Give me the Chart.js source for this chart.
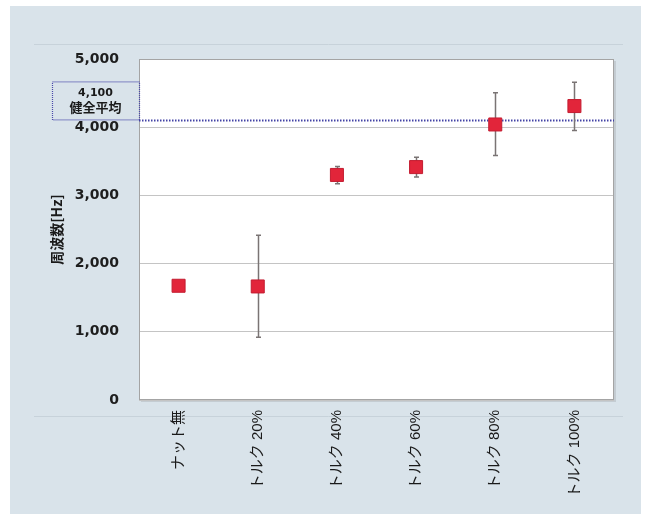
<!DOCTYPE html>
<html>
<head>
<meta charset="utf-8">
<script src="https://cdn.jsdelivr.net/npm/chart.js@4.4.0/dist/chart.umd.min.js"></script>
<style>
  html, body { margin: 0; padding: 0; background: #fff; }
  #wrap { width: 652px; height: 514px; }
</style>
</head>
<body>
<div id="wrap"><canvas id="c" width="652" height="514"></canvas></div>
<script>
// Natural frequency per bolt-tightening condition
const categories = ['ナット無', 'トルク 20%', 'トルク 40%', 'トルク 60%', 'トルク 80%', 'トルク 100%'];
const meanHz     = [1675, 1665, 3300, 3415, 4040, 4310];
const errLowHz   = [null,  920, 3170, 3270, 3585, 3950];
const errHighHz  = [null, 2415, 3425, 3560, 4505, 4660];
const yTicks     = [0, 1000, 2000, 3000, 4000, 5000];
const healthyAvgHz = 4100;
const healthyAvgLines = ['4,100', '健全平均'];

const AVG_COLOR = '#4343a6';

const decor = {
  id: 'decor',
  beforeDraw(chart) {
    const { ctx, chartArea: a } = chart;
    ctx.save();
    ctx.fillStyle = '#ffffff';
    ctx.fillRect(0, 0, chart.width, chart.height);
    ctx.fillStyle = '#d9e3ea';
    ctx.fillRect(10, 6, 631, 508);
    // faint horizontal rules of the panel
    ctx.strokeStyle = '#c7d2da';
    ctx.lineWidth = 1;
    [44.5, 416.5].forEach(y => {
      ctx.beginPath(); ctx.moveTo(34, y); ctx.lineTo(623, y); ctx.stroke();
    });
    // plot area with a soft drop shadow
    ctx.fillStyle = '#c4ccd2';
    ctx.fillRect(a.left + 2, a.top + 2, a.right - a.left, a.bottom - a.top);
    ctx.fillStyle = '#ffffff';
    ctx.fillRect(a.left, a.top, a.right - a.left, a.bottom - a.top);
    ctx.restore();
  },
  beforeDatasetsDraw(chart) {
    const { ctx, chartArea: a, scales: { x, y } } = chart;
    ctx.save();
    // plot frame
    ctx.strokeStyle = '#a4a4a4';
    ctx.lineWidth = 1;
    ctx.strokeRect(Math.round(a.left) + 0.5, Math.round(a.top) + 0.5,
                   Math.round(a.right - a.left) - 1, Math.round(a.bottom - a.top) - 1);

    // healthy-average reference line and its label box
    const ya = y.getPixelForValue(healthyAvgHz);
    ctx.strokeStyle = AVG_COLOR;
    ctx.lineWidth = 2;
    ctx.setLineDash([1.5, 1.5]);
    ctx.beginPath(); ctx.moveTo(a.left, ya); ctx.lineTo(a.right, ya); ctx.stroke();

    const bx = 52, bw = a.left - bx, bh = 39;
    ctx.lineWidth = 1.2;
    ctx.strokeStyle = '#4a4aaa';
    ctx.setLineDash([1, 1]);
    ctx.strokeRect(bx + 0.5, ya - bh + 0.5, bw, bh - 1);
    ctx.setLineDash([]);
    ctx.fillStyle = '#1a1a1a';
    ctx.textAlign = 'center';
    ctx.textBaseline = 'middle';
    ctx.font = 'bold 11px "DejaVu Sans"';
    ctx.fillText(healthyAvgLines[0], bx + bw / 2, ya - 27);
    ctx.font = 'bold 13px "Noto Sans CJK JP"';
    ctx.fillText(healthyAvgLines[1], bx + bw / 2, ya - 13);

    // error bars
    ctx.strokeStyle = '#7a7474';
    ctx.lineWidth = 1.5;
    meanHz.forEach((m, i) => {
      if (errLowHz[i] == null) return;
      const px = Math.round(x.getPixelForValue(i)) + 0.5;
      const y0 = y.getPixelForValue(errLowHz[i]);
      const y1 = y.getPixelForValue(errHighHz[i]);
      ctx.beginPath();
      ctx.moveTo(px, y0); ctx.lineTo(px, y1);
      ctx.moveTo(px - 2.5, y0); ctx.lineTo(px + 2.5, y0);
      ctx.moveTo(px - 2.5, y1); ctx.lineTo(px + 2.5, y1);
      ctx.stroke();
    });
    ctx.restore();
  }
};

new Chart(document.getElementById('c'), {
  type: 'line',
  data: {
    labels: categories,
    datasets: [{
      data: meanHz,
      showLine: false,
      pointStyle: 'rect',
      pointRadius: 9.2,
      pointHoverRadius: 9.2,
      pointBackgroundColor: '#e2253a',
      pointBorderColor: '#c31c30',
      pointBorderWidth: 1
    }]
  },
  options: {
    responsive: false,
    devicePixelRatio: 1,
    animation: false,
    layout: { padding: { left: 48, right: 38, top: 59, bottom: 0 } },
    plugins: { legend: { display: false }, tooltip: { enabled: false } },
    scales: {
      x: {
        offset: true,
        grid: { display: false, drawTicks: false },
        border: { display: false },
        ticks: {
          minRotation: 90, maxRotation: 90, padding: 10,
          color: '#1a1a1a',
          font: { family: '"Liberation Sans", "Noto Sans CJK JP"', size: 15 }
        },
        afterFit(scale) { scale.height = 114; }
      },
      y: {
        min: 0, max: 5000,
        afterBuildTicks(scale) { scale.ticks = yTicks.map(v => ({ value: v })); },
        grid: { color: '#c4c4c4', lineWidth: 1, drawTicks: false },
        border: { display: false },
        ticks: {
          padding: 20,
          color: '#1e1e1e',
          font: { family: '"DejaVu Sans"', size: 14, weight: 'bold' },
          callback: v => v.toLocaleString('en-US')
        },
        title: {
          display: true,
          text: '周波数[Hz]',
          color: '#1a1a1a',
          padding: { top: 0, bottom: 0 },
          font: { family: '"Noto Sans CJK JP"', size: 14, weight: 'bold' }
        },
        afterFit(scale) { scale.width = 91; }
      }
    }
  },
  plugins: [decor]
});
</script>
</body>
</html>
